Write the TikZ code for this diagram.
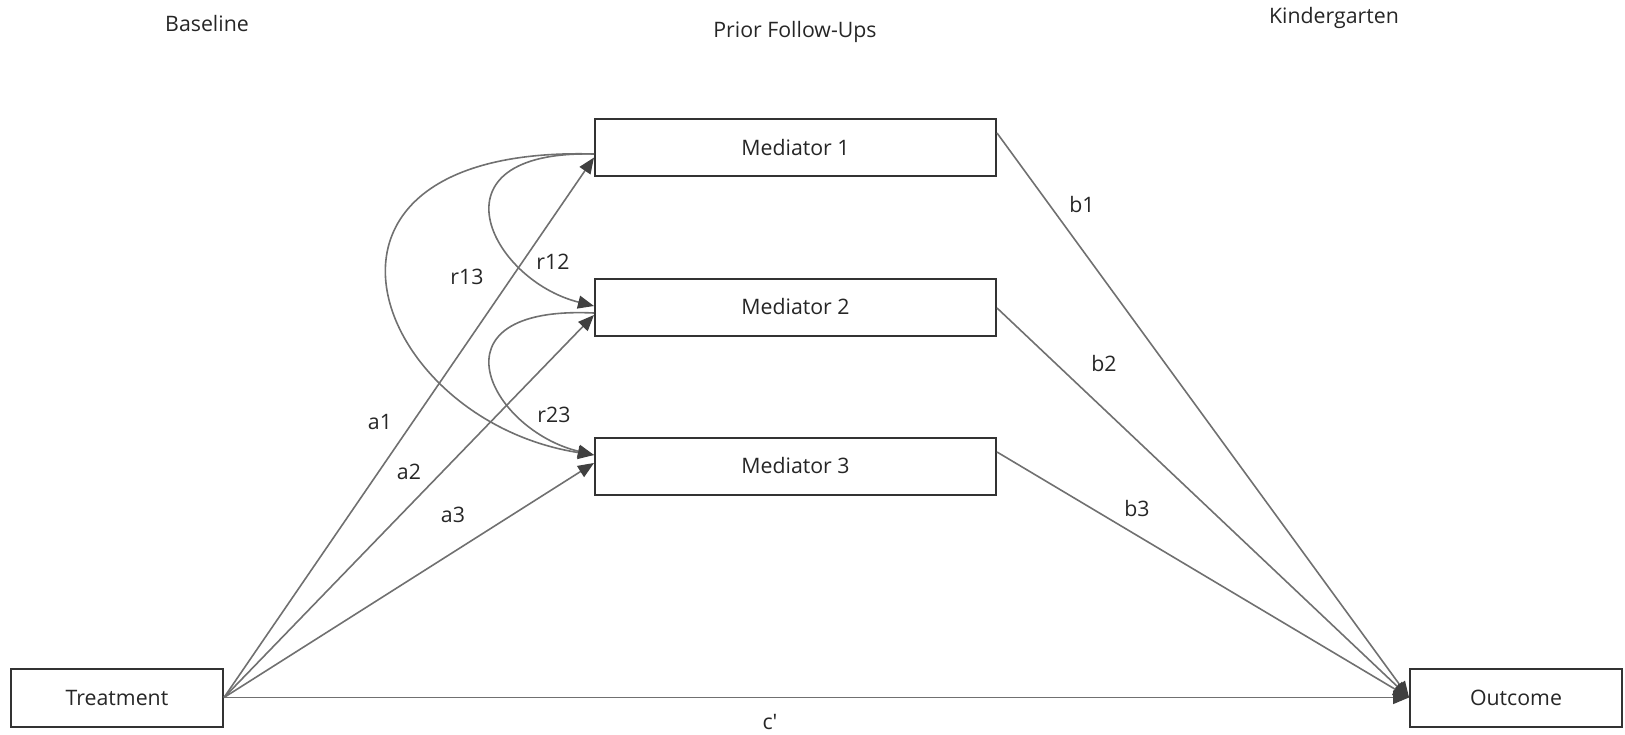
\documentclass[tikz,border=0pt]{standalone}
\usepackage{fontspec}
\setmainfont{Open Sans}
\usetikzlibrary{arrows.meta}
\definecolor{boxline}{HTML}{333333}
\definecolor{pathline}{HTML}{707070}
\definecolor{tipfill}{HTML}{404040}
\definecolor{txt}{HTML}{262626}
\begin{document}
\begin{tikzpicture}[x=1pt,y=-1pt,
  every node/.style={font=\fontsize{21.3}{25}\selectfont, text=txt},
  varbox/.style={draw=boxline, line width=2pt, fill=white, inner sep=0pt, rectangle},
  medbox/.style={varbox, minimum width=401pt, minimum height=57pt},
  endbox/.style={varbox, minimum width=212pt, minimum height=58pt},
  path/.style={draw=pathline, line width=1.6pt,
    -{Triangle[length=16pt,width=13pt,fill=tipfill,color=tipfill]}},
  lbl/.style={inner sep=0pt}
]
\useasboundingbox (0,0) rectangle (1625,734);

% column headings
\node[lbl] (hbase) at (207,24) {Baseline};
\node[lbl] (hprior) at (795,32) {Prior Follow-Ups};
\node[lbl] (hkg) at (1334,18) {Kindergarten};

% variables
\node[medbox] (m1) at (795.5,147.5) {Mediator 1};
\node[medbox] (m2) at (795.5,307) {Mediator 2};
\node[medbox] (m3) at (795.5,466) {Mediator 3};
\node[endbox] (treat) at (117,697.5) {Treatment};
\node[endbox] (out) at (1516,697.5) {Outcome};

% attachment points on the box sides
\coordinate (m1l) at ([yshift=-6.5pt]m1.west);
\coordinate (m1a) at ([yshift=-10pt]m1.west);
\coordinate (m2l) at ([yshift=1pt]m2.west);
\coordinate (m2r) at ([yshift=-6pt]m2.west);
\coordinate (m2a) at ([yshift=-8pt]m2.west);
\coordinate (m3l) at ([yshift=11pt]m3.west);
\coordinate (m3a) at ([yshift=3pt]m3.west);
\coordinate (m1o) at ([yshift=14.5pt]m1.east);
\coordinate (m2o) at ([yshift=-1pt]m2.east);
\coordinate (m3o) at ([yshift=14pt]m3.east);

% a paths
\draw[path] (treat.east) -- (m1a);
\draw[path] (treat.east) -- (m2a);
\draw[path] (treat.east) -- (m3a);

% b paths and direct effect
\draw[path] (m1o) -- (out.west);
\draw[path] (m2o) -- (out.west);
\draw[path] (m3o) -- (out.west);
\draw[path] (treat.east) -- (out.west);

% residual covariances
\draw[path] (m1l) .. controls (270,145) and (370,420) .. (m3l);
\draw[path] (m1l) .. controls (425,150) and (490,280) .. (m2l);
\draw[path] (m2r) .. controls (425,305) and (490,430) .. (m3l);

% path labels
\node[lbl] (la1) at (380,422) {a1};
\node[lbl] (la2) at (409,472) {a2};
\node[lbl] (la3) at (453,515) {a3};
\node[lbl] (lr13) at (467,277) {r13};
\node[lbl] (lr12) at (553,262) {r12};
\node[lbl] (lr23) at (554,415) {r23};
\node[lbl] (lb1) at (1082,205) {b1};
\node[lbl] (lb2) at (1104,364) {b2};
\node[lbl] (lb3) at (1137,509) {b3};
\node[lbl] (lc) at (770,722) {c\textquotesingle};
\end{tikzpicture}
\end{document}
